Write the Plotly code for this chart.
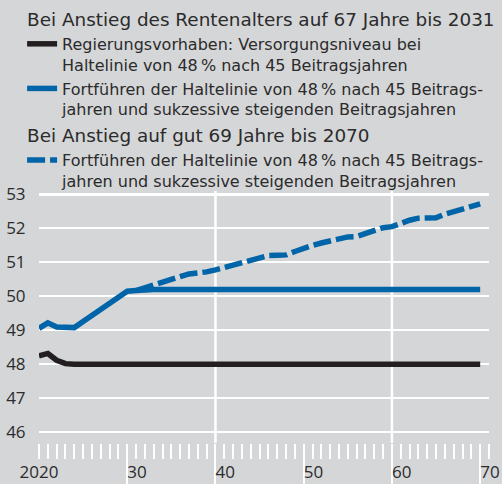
import plotly.graph_objects as go

# ---------------- data ----------------
YEARS = list(range(2020, 2071))
REGIERUNG = [48.25, 48.32, 48.12, 48.02, 48.0, 48.0, 48.0, 48.0, 48.0, 48.0,
             48.0, 48.0, 48.0, 48.0, 48.0, 48.0, 48.0, 48.0, 48.0, 48.0,
             48.0, 48.0, 48.0, 48.0, 48.0, 48.0, 48.0, 48.0, 48.0, 48.0,
             48.0, 48.0, 48.0, 48.0, 48.0, 48.0, 48.0, 48.0, 48.0, 48.0,
             48.0, 48.0, 48.0, 48.0, 48.0, 48.0, 48.0, 48.0, 48.0, 48.0,
             48.0]
HALTELINIE_67 = [49.06, 49.22, 49.10, 49.08, 49.08, 49.26, 49.44, 49.62, 49.80, 49.98,
                 50.15, 50.17, 50.20, 50.20, 50.20, 50.20, 50.20, 50.20, 50.20, 50.20,
                 50.20, 50.20, 50.20, 50.20, 50.20, 50.20, 50.20, 50.20, 50.20, 50.20,
                 50.20, 50.20, 50.20, 50.20, 50.20, 50.20, 50.20, 50.20, 50.20, 50.20,
                 50.20, 50.20, 50.20, 50.20, 50.20, 50.20, 50.20, 50.20, 50.20, 50.20,
                 50.20]
YEARS_69 = list(range(2031, 2071))
HALTELINIE_69 = [50.17, 50.26, 50.35, 50.42, 50.50, 50.58, 50.66, 50.68, 50.72, 50.78,
                 50.85, 50.92, 50.97, 51.03, 51.12, 51.20, 51.21, 51.22, 51.32, 51.42,
                 51.50, 51.57, 51.64, 51.72, 51.75, 51.76, 51.85, 51.95, 52.02, 52.05,
                 52.15, 52.24, 52.30, 52.30, 52.31, 52.42, 52.50, 52.55, 52.62, 52.72]

NAMES = ["Regierungsvorhaben: Versorgungsniveau bei<br>Haltelinie von 48\u202f% nach 45 Beitragsjahren",
         "Fortführen der Haltelinie von 48\u202f% nach 45 Beitrags-<br>jahren und sukzessive steigenden Beitragsjahren",
         "Fortführen der Haltelinie von 48\u202f% nach 45 Beitrags-<br>jahren und sukzessive steigenden Beitragsjahren"]
GROUP_TITLES = ["Bei Anstieg des Rentenalters auf 67 Jahre bis 2031",
                "Bei Anstieg auf gut 69 Jahre bis 2070"]

Y_TICKS = [46, 47, 48, 49, 50, 51, 52, 53]
X_MAJOR = [2030, 2040, 2050, 2060, 2070]
X_MAJOR_TEXT = ["30", "40", "50", "60", "70"]
X_FIRST = [2020]
X_FIRST_TEXT = ["2020"]
X_VGRID = [2040, 2060]

# ---------------- style ----------------
BG = "#d5d6d8"
TXT = "#2b2b2b"
BLACK = "#231f20"
BLUE = "#0064a8"
FONT = "Open Sans"
LFONT = "DejaVu Sans"
LW = 5.5

fig = go.Figure()
fig.add_trace(go.Scatter(x=YEARS, y=REGIERUNG, mode="lines", name=NAMES[0],
                         line=dict(color=BLACK, width=LW), hoverinfo="skip",
                         legendgroup="g67", legendgrouptitle=dict(text=GROUP_TITLES[0])))
fig.add_trace(go.Scatter(x=YEARS, y=HALTELINIE_67, mode="lines", name=NAMES[1],
                         line=dict(color=BLUE, width=LW), legendgroup="g67", hoverinfo="skip"))
fig.add_trace(go.Scatter(x=YEARS_69, y=HALTELINIE_69, mode="lines", name=NAMES[2],
                         line=dict(color=BLUE, width=LW, dash="18px,5px"), hoverinfo="skip",
                         legendgroup="g69", legendgrouptitle=dict(text=GROUP_TITLES[1])))
# empty helper traces so the label-only axes are drawn
fig.add_trace(go.Scatter(x=[], y=[], xaxis="x2", showlegend=False, hoverinfo="skip"))
fig.add_trace(go.Scatter(x=[], y=[], xaxis="x3", showlegend=False, hoverinfo="skip"))

for xv in X_VGRID:
    fig.add_shape(type="line", xref="x", yref="paper", x0=xv, x1=xv, y0=0, y1=1,
                  line=dict(color="white", width=2.5), layer="below")

XR = [2020, 2071]
fig.update_layout(
    width=502, height=484,
    paper_bgcolor=BG, plot_bgcolor=BG,
    margin=dict(l=39, r=13, t=191, b=41, pad=0, autoexpand=False),
    font=dict(family=FONT, color=TXT, size=15),
    showlegend=True,
    legend=dict(xref="container", yref="container", x=0.044, y=1.0,
                xanchor="left", yanchor="top", bgcolor="rgba(0,0,0,0)",
                traceorder="grouped", tracegroupgap=0, valign="top",
                font=dict(family=LFONT, size=16, color=TXT),
                grouptitlefont=dict(family=LFONT, size=18.4, color=TXT)),
    xaxis=dict(range=XR, showgrid=False, zeroline=False, showline=False,
               tickmode="array", tickvals=X_MAJOR, ticks="outside", ticklen=41,
               tickwidth=2, tickcolor="white", showticklabels=False,
               minor=dict(dtick=1, tick0=2020, ticks="outside", ticklen=15,
                          tickwidth=2, tickcolor="white", showgrid=False)),
    xaxis2=dict(range=XR, overlaying="x", anchor="y", side="bottom", showgrid=False,
                zeroline=False, showline=False, tickmode="array", tickvals=X_MAJOR,
                ticktext=X_MAJOR_TEXT, ticks="", ticklabelposition="outside right",
                ticklabelstandoff=17, tickfont=dict(size=17, family=FONT, color=TXT)),
    xaxis3=dict(range=XR, overlaying="x", anchor="y", side="bottom", showgrid=False,
                zeroline=False, showline=False, tickmode="array", tickvals=X_FIRST,
                ticktext=X_FIRST_TEXT, ticks="",
                ticklabelstandoff=17, tickfont=dict(size=17, family=FONT, color=TXT)),
    yaxis=dict(range=[45.685, 53.1], tickmode="array", tickvals=Y_TICKS,
               showgrid=True, gridcolor="white", gridwidth=2.2, zeroline=False,
               showline=False, ticks="outside", ticklen=9, tickcolor="rgba(0,0,0,0)",
               tickfont=dict(size=17, family=FONT, color=TXT)),
)
fig.write_html("out.html", config={"displayModeBar": False, "staticPlot": True},
               post_script="document.body.style.margin='0';document.body.style.background='%s';" % BG)
